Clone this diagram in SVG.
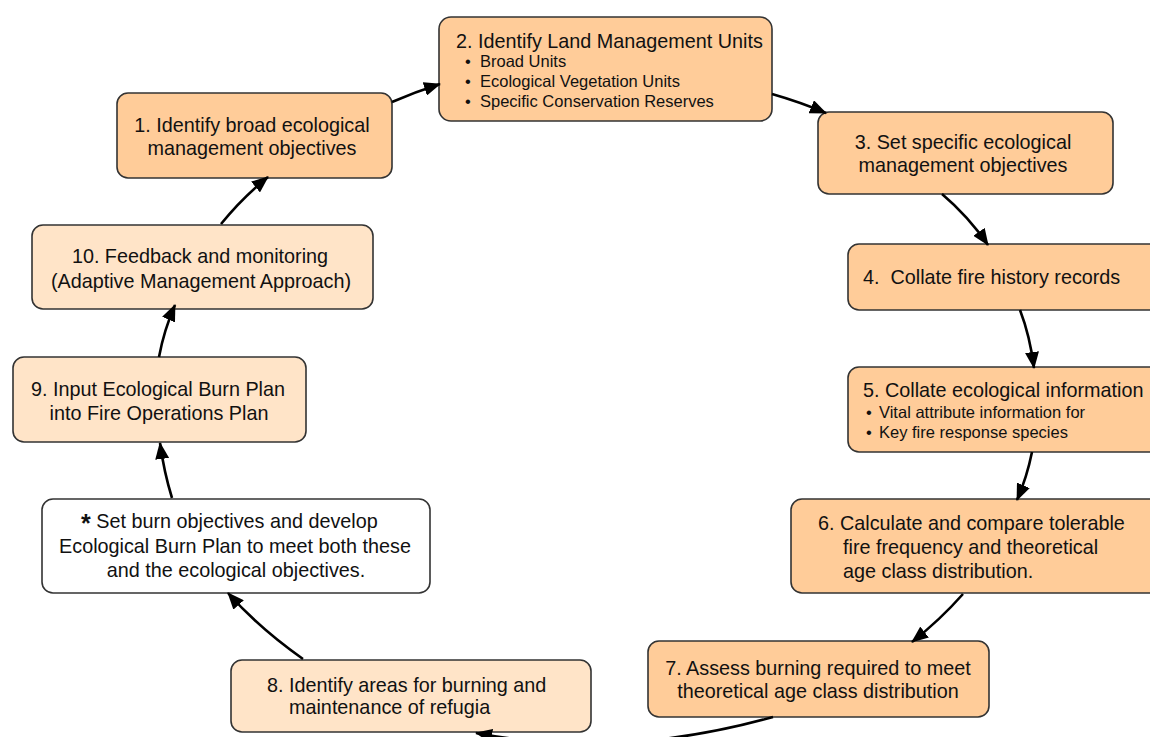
<svg xmlns="http://www.w3.org/2000/svg" width="1150" height="737" viewBox="0 0 1150 737">
<style>
.box{stroke:#333333;stroke-width:1.6}
.dk{fill:#FFCC99}
.lt{fill:#FFE4C8}
.wh{fill:#FFFFFF}
text{font-family:"Liberation Sans",Arial,Helvetica,sans-serif;fill:#111111}
.t{font-size:19.8px}
.c{text-anchor:middle}
.b{font-size:16.5px}
.conn path{fill:none;stroke:#000000;stroke-width:2.6}
</style>
<defs>
<marker id="ah" markerWidth="17" markerHeight="14" refX="16" refY="7" orient="auto" markerUnits="userSpaceOnUse">
<path d="M0,0 L17,7 L0,14 z" fill="#000000"/>
</marker>
</defs>
<rect width="1150" height="737" fill="#FFFFFF"/>

<g id="n1">
<rect class="box dk" x="117" y="93" width="275" height="85" rx="11"/>
<text class="t c" x="252" y="132">1. Identify broad ecological</text>
<text class="t c" x="252" y="155">management objectives</text>
</g>

<g id="n2">
<rect class="box dk" x="439" y="17" width="333" height="104" rx="12"/>
<text class="t" x="456" y="48">2. Identify Land Management Units</text>
<text class="b" x="465" y="67">•</text><text class="b" x="480" y="67">Broad Units</text>
<text class="b" x="465" y="87">•</text><text class="b" x="480" y="87">Ecological Vegetation Units</text>
<text class="b" x="465" y="107">•</text><text class="b" x="480" y="107">Specific Conservation Reserves</text>
</g>

<g id="n3">
<rect class="box dk" x="818" y="112" width="295" height="82" rx="11"/>
<text class="t c" x="963" y="149">3. Set specific ecological</text>
<text class="t c" x="963" y="172">management objectives</text>
</g>

<g id="n4">
<rect class="box dk" x="848" y="244" width="330" height="66" rx="11"/>
<text class="t" x="863" y="284" xml:space="preserve">4.  Collate fire history records</text>
</g>

<g id="n5">
<rect class="box dk" x="848" y="367" width="330" height="85" rx="11"/>
<text class="t" x="863" y="397">5. Collate ecological information</text>
<text class="b" x="866" y="418">•</text><text class="b" x="879" y="418">Vital attribute information for</text>
<text class="b" x="866" y="438">•</text><text class="b" x="879" y="438">Key fire response species</text>
</g>

<g id="n6">
<rect class="box dk" x="791" y="499" width="390" height="94" rx="11"/>
<text class="t" x="818" y="530">6. Calculate and compare tolerable</text>
<text class="t" x="843" y="554">fire frequency and theoretical</text>
<text class="t" x="843" y="578">age class distribution.</text>
</g>

<g id="n7">
<rect class="box dk" x="648" y="641" width="341" height="76" rx="11"/>
<text class="t c" x="818" y="675">7. Assess burning required to meet</text>
<text class="t c" x="818" y="698">theoretical age class distribution</text>
</g>

<g id="n8">
<rect class="box lt" x="231" y="660" width="360" height="72" rx="11"/>
<text class="t" x="267" y="692">8. Identify areas for burning and</text>
<text class="t" x="289" y="714">maintenance of refugia</text>
</g>

<g id="n_star">
<rect class="box wh" x="42" y="499" width="388" height="94" rx="11"/>
<text class="t" x="81" y="528"><tspan style="font-size:25px;font-weight:bold" dy="4">*</tspan><tspan dy="-4"> Set burn objectives and develop</tspan></text>
<text class="t c" x="235" y="553">Ecological Burn Plan to meet both these</text>
<text class="t c" x="236" y="577">and the ecological objectives.</text>
</g>

<g id="n9">
<rect class="box lt" x="13" y="357" width="293" height="85" rx="11"/>
<text class="t c" x="158" y="396">9. Input Ecological Burn Plan</text>
<text class="t c" x="159" y="420">into Fire Operations Plan</text>
</g>

<g id="n10">
<rect class="box lt" x="32" y="225" width="341" height="84" rx="11"/>
<text class="t c" x="200" y="263">10. Feedback and monitoring</text>
<text class="t c" x="201" y="288">(Adaptive Management Approach)</text>
</g>

<g id="connectors" class="conn">
<path d="M392,102 Q415,92 440,84" marker-end="url(#ah)"/>
<path d="M772,94 Q800,102 826,113" marker-end="url(#ah)"/>
<path d="M942,194 Q968,216 988,245" marker-end="url(#ah)"/>
<path d="M1020,310 Q1030,336 1034,368" marker-end="url(#ah)"/>
<path d="M1032,452 Q1027,477 1017,500" marker-end="url(#ah)"/>
<path d="M963,594 Q940,620 912,642" marker-end="url(#ah)"/>
<path d="M773,717 Q620,760 476,733" marker-end="url(#ah)"/>
<path d="M303,659 Q259,628 228,593" marker-end="url(#ah)"/>
<path d="M172,498 Q164,472 160,443" marker-end="url(#ah)"/>
<path d="M159,357 Q164,330 175,305" marker-end="url(#ah)"/>
<path d="M221,224 Q242,198 268,177" marker-end="url(#ah)"/>
</g>
</svg>
